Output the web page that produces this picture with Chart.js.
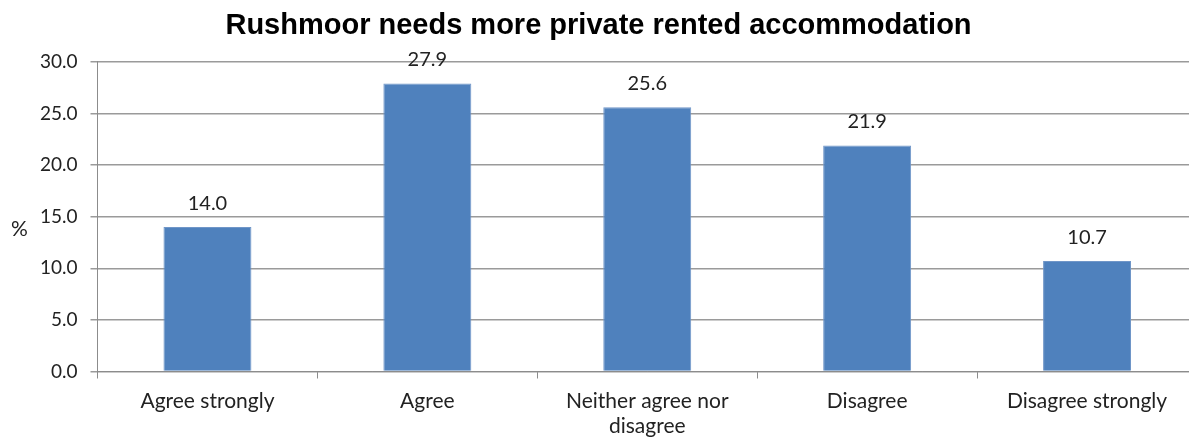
<!DOCTYPE html>
<html>
<head>
<meta charset="utf-8">
<script src="https://cdn.jsdelivr.net/npm/chart.js@4/dist/chart.umd.min.js"></script>
<style>
  html, body { margin: 0; padding: 0; background: #ffffff; overflow: hidden; }
  #wrap { width: 1210px; height: 441px; }
</style>
</head>
<body>
<div id="wrap"><canvas id="chart" width="1210" height="441"></canvas></div>
<script>
// Survey responses: "Rushmoor needs more private rented accommodation"
const categories = ['Agree strongly', 'Agree', ['Neither agree nor', 'disagree'], 'Disagree', 'Disagree strongly'];
const percentages = [14.0, 27.9, 25.6, 21.9, 10.7];
const yTickValues = [0, 5, 10, 15, 20, 25, 30];

const labelFont = "Lato, 'Open Sans', sans-serif";

// Value labels above each bar, and the "%" unit label beside the y axis
const barValueLabels = {
  id: 'barValueLabels',
  afterDatasetsDraw(chart) {
    const ctx = chart.ctx;
    ctx.save();
    ctx.font = '20px ' + labelFont;
    ctx.fillStyle = '#222222';
    ctx.textAlign = 'center';
    ctx.textBaseline = 'alphabetic';
    chart.getDatasetMeta(0).data.forEach((bar, i) => {
      ctx.fillText(percentages[i].toFixed(1), bar.x, bar.y - 17);
    });
    const area = chart.chartArea;
    ctx.font = '21px ' + labelFont;
    ctx.textAlign = 'left';
    ctx.textBaseline = 'middle';
    ctx.fillText('%', 11, (area.top + area.bottom) / 2 + 13);
    ctx.restore();
  }
};

new Chart(document.getElementById('chart'), {
  type: 'bar',
  data: {
    labels: categories,
    datasets: [{
      data: percentages,
      backgroundColor: '#4F81BD',
      borderColor: '#7096c8',
      borderWidth: 1,
      categoryPercentage: 1.0,
      barPercentage: 0.4
    }]
  },
  options: {
    responsive: false,
    animation: false,
    layout: { padding: { left: 0, right: 13, top: 0, bottom: 0 } },
    plugins: {
      legend: { display: false },
      tooltip: { enabled: false },
      title: {
        display: true,
        text: 'Rushmoor needs more private rented accommodation',
        color: '#000000',
        font: { family: "'Liberation Sans', Arial, sans-serif", size: 29, weight: 'bold', lineHeight: 1.2 },
        padding: { top: 9, bottom: 18 }
      }
    },
    scales: {
      x: {
        offset: true,
        grid: {
          offset: true,
          drawOnChartArea: false,
          drawTicks: true,
          tickLength: 7,
          color: '#8c8c8c'
        },
        border: { display: true, color: '#8c8c8c', width: 1 },
        ticks: {
          color: '#222222',
          font: { family: labelFont, size: 21, lineHeight: 1.2 },
          padding: 10,
          maxRotation: 0,
          autoSkip: false
        },
        afterFit(scale) { scale.height = 69.5; }
      },
      y: {
        min: 0,
        max: 30,
        afterBuildTicks(scale) { scale.ticks = yTickValues.map(v => ({ value: v })); },
        grid: {
          color: '#9a9a9a',
          lineWidth: 1.5,
          drawTicks: true,
          tickLength: 7
        },
        border: { display: true, color: '#8c8c8c', width: 1 },
        ticks: {
          color: '#222222',
          font: { family: labelFont, size: 19 },
          padding: 13,
          callback: v => Number(v).toFixed(1)
        },
        afterFit(scale) { scale.width = 97.5; }
      }
    }
  },
  plugins: [barValueLabels]
});
</script>
</body>
</html>
